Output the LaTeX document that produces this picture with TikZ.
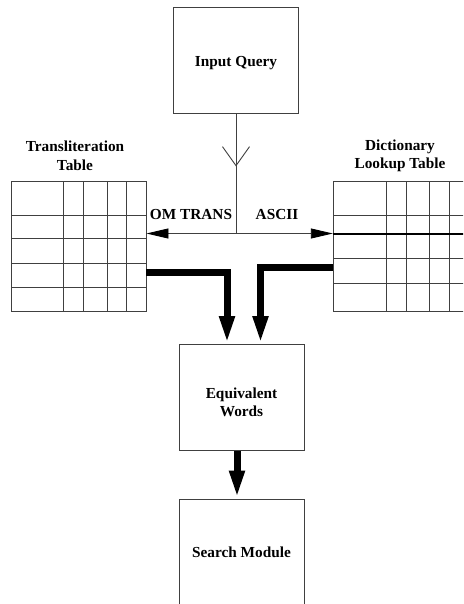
\documentclass[tikz,border=0pt]{standalone}
\usepackage{fontspec}
\setmainfont{Liberation Serif}
\usetikzlibrary{arrows.meta,decorations.markings}
\begin{document}
\begin{tikzpicture}[x=1pt,y=-1pt,
  thin/.style={line width=0.9pt,draw=black!75},
  box/.style={thin,rectangle,inner sep=0pt,minimum width=125pt,minimum height=106pt,align=center},
  lbl/.style={inner sep=0pt,align=center,font=\fontsize{15.3}{18.5}\selectfont\bfseries},
  tbl/.style={rectangle,inner sep=0pt,minimum width=135pt,minimum height=130pt},
  fat/.style={line width=7pt,-{Triangle[length=28pt,width=14pt]}},
  thinarrow/.style={thin,-{Triangle[length=22pt,width=10pt,color=black,fill=black]}}
]
\clip (0,0) rectangle (463,604);
\fill[white] (0,0) rectangle (463,604);

% boxes
\node[box] (iq) at (236,60) {};
\node[lbl] (iqt) at ([yshift=-3pt]iq.center) {Input Query};
\node[box] (eq) at (241.5,397.5) {};
\node[lbl] (eqt) at ([yshift=-5pt]eq.center) {Equivalent\\Words};
\node[box] (sm) at (241.5,552) {};
\node[lbl] (smt) at (sm.center) {Search Module};

% left table
\node[tbl,thin,draw] (lt) at (78.5,246) {};
\foreach \x in {63,83,107,126} \draw[thin] (\x,181) -- (\x,311);
\foreach \y in {215,238,263,287} \draw[thin] (11,\y) -- (146,\y);
\node[lbl] (ltt) at (75,156) {Transliteration\\Table};

% right table (extends past right edge)
\node[tbl,minimum width=160pt] (rt) at (413,246) {};
\draw[thin] (490,181) -- (333,181) -- (333,311) -- (490,311);
\foreach \x in {386,406,429,449} \draw[thin] (\x,181) -- (\x,311);
\foreach \y in {215,258,283} \draw[thin] (333,\y) -- (490,\y);
\node[lbl] (rtt) at (400,156) {Dictionary\\Lookup Table};

% query to junction
\coordinate (j) at (iq.south |- 0,233.5);
\draw[thin,postaction={decorate},decoration={markings,
  mark=at position 53pt with {\arrow{Straight Barb[length=19pt,width=27pt,line width=0.9pt]}}}]
  (iq.south) -- (j);
\draw[thinarrow] (j) -- (lt.east |- j);
\draw[thinarrow] (j) -- (rt.west |- j);
\draw[line width=2pt,black] (rt.west |- j) -- (490,233.5);

\node[lbl] (om) at (191,215) {OM TRANS};
\node[lbl] (as) at (277,215) {ASCII};

% fat connectors
\draw[fat] ([yshift=-26.5pt]lt.east) -| ([xshift=-14.5pt]eq.north);
\draw[fat] ([yshift=-21.5pt]lt.east -| rt.west) -| ([xshift=19pt]eq.north);
\draw[fat] ([xshift=-4.5pt]eq.south) -- ([xshift=-4.5pt]sm.north);
\end{tikzpicture}
\end{document}
